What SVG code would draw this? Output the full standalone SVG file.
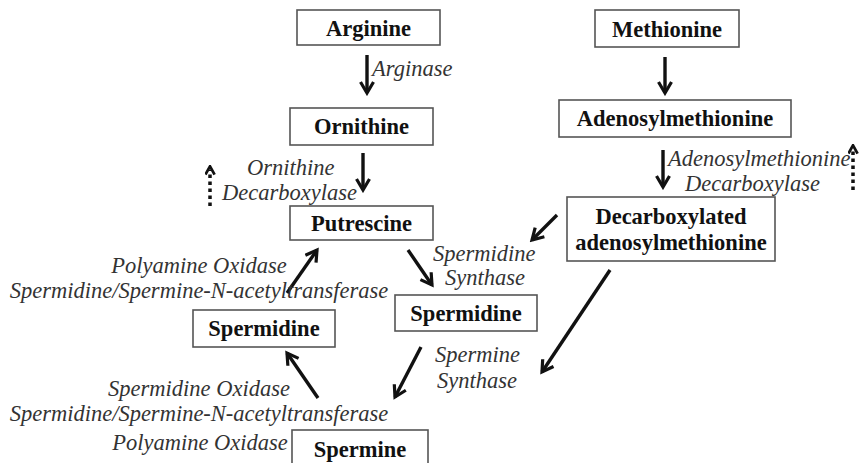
<svg xmlns="http://www.w3.org/2000/svg" width="865" height="463" viewBox="0 0 865 463">
<defs>
<style>
.box{fill:#fff;stroke:#555;stroke-width:1.6}
.node{font-family:"Liberation Serif","Times New Roman",serif;font-weight:bold;font-size:22.5px;fill:#111;text-anchor:middle}
.lbl{font-family:"Liberation Serif","Times New Roman",serif;font-style:italic;font-size:22.5px;fill:#333}
.arr{stroke:#111;stroke-width:3.4;fill:none;marker-end:url(#ah)}
.dot{stroke:#111;stroke-width:3.5;fill:none;stroke-dasharray:3.5 3.5;marker-end:url(#ah2)}
</style>
<marker id="ah" viewBox="0 0 16 16" refX="13" refY="8" markerWidth="16" markerHeight="16" markerUnits="userSpaceOnUse" orient="auto">
<path d="M2,1.5 L13,8 L2,14.5" fill="none" stroke="#111" stroke-width="3.2" stroke-linejoin="miter"/>
</marker>
<marker id="ah2" viewBox="0 0 12 12" refX="6" refY="6" markerWidth="11" markerHeight="11" markerUnits="userSpaceOnUse" orient="auto">
<path d="M1,1 L10,6 L1,11" fill="none" stroke="#111" stroke-width="3"/>
</marker>
</defs>
<rect width="865" height="463" fill="#fff"/>

<g id="connectors">
<line class="arr" x1="367" y1="55" x2="367" y2="93"/>
<line class="arr" x1="665" y1="57" x2="665" y2="93"/>
<line class="arr" x1="363" y1="153" x2="363" y2="190"/>
<line class="arr" x1="663" y1="150" x2="663" y2="187"/>
<line class="arr" x1="557" y1="215" x2="532" y2="240"/>
<line class="arr" x1="408" y1="250" x2="432" y2="285"/>
<line class="arr" x1="421" y1="347" x2="395" y2="397"/>
<line class="arr" x1="610" y1="270" x2="542" y2="372"/>
<line class="arr" x1="287" y1="293" x2="317" y2="250"/>
<line class="arr" x1="318" y1="398" x2="287" y2="353"/>
<line class="dot" x1="210" y1="206" x2="210" y2="170"/>
<line class="dot" x1="853" y1="190" x2="853" y2="149"/>
</g>

<g id="arginine"><rect class="box" x="297" y="10" width="143" height="35"/><text class="node" x="368.5" y="36">Arginine</text></g>
<g id="ornithine"><rect class="box" x="290" y="108" width="143" height="37"/><text class="node" x="361.5" y="134">Ornithine</text></g>
<g id="putrescine"><rect class="box" x="290" y="206" width="143" height="34"/><text class="node" x="361.5" y="231">Putrescine</text></g>
<g id="methionine"><rect class="box" x="595" y="10" width="144" height="37"/><text class="node" x="667" y="37">Methionine</text></g>
<g id="adenosylmethionine"><rect class="box" x="559" y="100" width="232" height="37"/><text class="node" x="675" y="126">Adenosylmethionine</text></g>
<g id="decarboxylated"><rect class="box" x="567" y="197" width="208" height="64"/><text class="node" x="671" y="224">Decarboxylated</text><text class="node" x="671" y="250">adenosylmethionine</text></g>
<g id="spermidine-right"><rect class="box" x="395" y="295" width="142" height="36"/><text class="node" x="466" y="321">Spermidine</text></g>
<g id="spermidine-left"><rect class="box" x="193" y="310" width="142" height="37"/><text class="node" x="264" y="336">Spermidine</text></g>
<g id="spermine"><rect class="box" x="292" y="430" width="136" height="40"/><text class="node" x="360" y="457">Spermine</text></g>

<g id="labels">
<text class="lbl" x="372" y="76">Arginase</text>
<text class="lbl" x="247" y="175">Ornithine</text>
<text class="lbl" x="222" y="200">Decarboxylase</text>
<text class="lbl" x="668" y="166">Adenosylmethionine</text>
<text class="lbl" x="685" y="191">Decarboxylase</text>
<text class="lbl" x="433" y="261">Spermidine</text>
<text class="lbl" x="445" y="285">Synthase</text>
<text class="lbl" x="435" y="362">Spermine</text>
<text class="lbl" x="437" y="388">Synthase</text>
<text class="lbl" x="199" y="273" text-anchor="middle">Polyamine Oxidase</text>
<text class="lbl" x="199" y="298" text-anchor="middle">Spermidine/Spermine-N-acetyltransferase</text>
<text class="lbl" x="199" y="396" text-anchor="middle">Spermidine Oxidase</text>
<text class="lbl" x="199" y="421" text-anchor="middle">Spermidine/Spermine-N-acetyltransferase</text>
<text class="lbl" x="200" y="450" text-anchor="middle">Polyamine Oxidase</text>
</g>
</svg>
